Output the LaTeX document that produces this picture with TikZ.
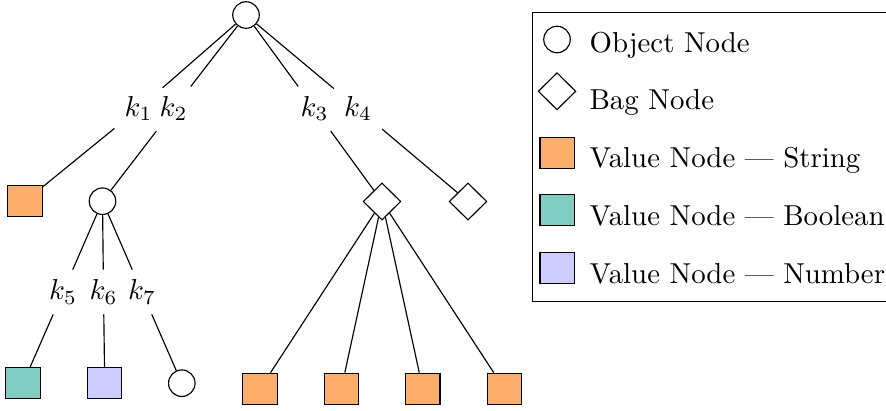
\documentclass[tikz,border=0pt]{standalone}
\usetikzlibrary{shapes.geometric}

\definecolor{strcol}{HTML}{FDAE6B}
\definecolor{boolcol}{HTML}{80CDC1}
\definecolor{numcol}{HTML}{CCCCFF}

\tikzset{every picture/.style={line width=0.4pt}}
\tikzset{
  objnode/.style={circle,draw,inner sep=0pt,minimum size=9.2pt},
  bagnode/.style={diamond,draw,inner sep=0pt,minimum width=13.1pt,minimum height=12.9pt},
  valnode/.style={rectangle,draw,inner sep=0pt,minimum width=11.9pt,minimum height=10.8pt},
  keylabel/.style={inner sep=3.33pt},
  legtext/.style={anchor=base west,inner sep=0pt}
}

\begin{document}
\begin{tikzpicture}[x=0.347pt,y=0.347pt,yscale=-1,xscale=1]
%set diagram left start at 0, and has size 886 x 410
\useasboundingbox (0,0) rectangle (886,410);

%Shapes
\node [objnode] (root) at (246,15) {};
\node [valnode,fill=strcol] (s1) at (25,201.3) {};
\node [objnode] (o2) at (102.5,201.2) {};
\node [bagnode] (b3) at (382,201.5) {};
\node [bagnode] (b4) at (468,201.5) {};
\node [valnode,fill=boolcol] (v5) at (23,383.3) {};
\node [valnode,fill=numcol] (v6) at (104.7,383.3) {};
\node [objnode] (o7) at (181.8,383.2) {};
\node [valnode,fill=strcol] (s8) at (260,388.8) {};
\node [valnode,fill=strcol] (s9) at (341.3,388.8) {};
\node [valnode,fill=strcol] (s10) at (422.8,388.8) {};
\node [valnode,fill=strcol] (s11) at (504.3,388.8) {};

% Text Node
\node [keylabel] (k1) at (138.5,108.8) {$k_{1}$};
% Text Node
\node [keylabel] (k2) at (173.5,108.8) {$k_{2}$};
% Text Node
\node [keylabel] (k3) at (314.5,108.8) {$k_{3}$};
% Text Node
\node [keylabel] (k4) at (358,108.8) {$k_{4}$};
% Text Node
\node [keylabel] (k5) at (63,292) {$k_{5}$};
% Text Node
\node [keylabel] (k6) at (103.5,292) {$k_{6}$};
% Text Node
\node [keylabel] (k7) at (142,292) {$k_{7}$};

%Straight Lines
\draw (root) -- (k1) -- (s1);
\draw (root) -- (k2) -- (o2);
\draw (root) -- (k3) -- (b3);
\draw (root) -- (k4) -- (b4);
\draw (o2) -- (k5) -- (v5);
\draw (o2) -- (k6) -- (v6);
\draw (o2) -- (k7) -- (o7);
\draw (b3) -- (s8);
\draw (b3) -- (s9);
\draw (b3) -- (s10);
\draw (b3) -- (s11);

%Legend
\draw (532.7,12.3) rectangle (888,301.7);
\node [objnode] (lobj) at (557,39.5) {};
\node [bagnode] (lbag) at (557,91.3) {};
\node [valnode,fill=strcol] (lstr) at (557.2,152.8) {};
\node [valnode,fill=boolcol] (lbool) at (557.2,210.3) {};
\node [valnode,fill=numcol] (lnum) at (557.2,268) {};
% Text Node
\node [legtext] (tobj) at (589,52.7) {Object Node};
% Text Node
\node [legtext] (tbag) at (589,109.8) {Bag Node};
% Text Node
\node [legtext] (tstr) at (589,167.3) {Value Node --- String};
% Text Node
\node [legtext] (tbool) at (589,225) {Value Node --- Boolean};
% Text Node
\node [legtext] (tnum) at (589,283) {Value Node --- Number};

\end{tikzpicture}
\end{document}
